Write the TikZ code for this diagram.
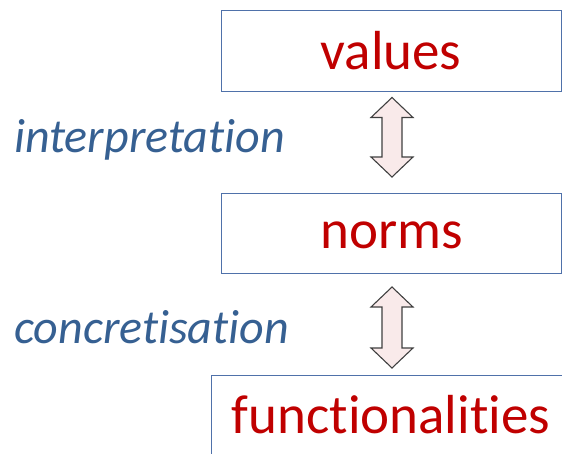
\documentclass[tikz,border=0pt]{standalone}
\usepackage{fontspec}
\setmainfont[Ligatures=NoCommon]{Carlito}
\usetikzlibrary{calc}
\definecolor{boxline}{RGB}{79,113,170}
\definecolor{boxtextred}{RGB}{192,0,0}
\definecolor{labelblue}{RGB}{54,96,146}
\definecolor{arrowfill}{RGB}{249,234,234}
\definecolor{arrowline}{RGB}{64,64,64}
\tikzset{
  box/.style={draw=boxline, line width=1.4pt, fill=white, inner sep=0pt, anchor=north west},
  boxtext/.style={text=boxtextred, font=\fontsize{55}{60}\selectfont, inner sep=0pt, anchor=base},
  sidelabel/.style={text=labelblue, font=\fontsize{48}{52}\selectfont\itshape, inner sep=0pt, anchor=base west},
  dblarrow/.style={draw=arrowline, fill=arrowfill, line width=1.1pt, line join=miter}
}
\newcommand{\dblarrowpath}[2]{%
  \draw[dblarrow] (#1) -- ($(#1)+(21,20)$) -- ($(#1)+(10,20)$) -- ($(#2)+(10,-20)$)
    -- ($(#2)+(21,-20)$) -- (#2) -- ($(#2)+(-21,-20)$) -- ($(#2)+(-10,-20)$)
    -- ($(#1)+(-10,20)$) -- ($(#1)+(-21,20)$) -- cycle;}
\begin{document}
\begin{tikzpicture}[x=1pt,y=-1pt]
\path[use as bounding box, clip] (0,0) rectangle (562,453);
\fill[white] (0,0) rectangle (562,453);
% boxes
\node[box, minimum width=340pt, minimum height=81pt] (vbox) at (221,10) {};
\node[box, minimum width=340pt, minimum height=80pt] (nbox) at (221,193) {};
\node[box, minimum width=400pt, minimum height=120pt] (fbox) at (211,375) {};
% box texts
\node[boxtext] (vtext) at (391,69) {values};
\node[boxtext] (ntext) at (392,248) {norms};
\node[boxtext] (ftext) at (391,433) {functionalities};
% side labels
\node[sidelabel] (interp) at (14,152) {interpretation};
\node[sidelabel] (concr) at (14,343) {concretisation};
% double arrows
\coordinate (a1t) at (392,97.5);
\coordinate (a1b) at (392,177);
\coordinate (a2t) at (392,287);
\coordinate (a2b) at (392,368);
\dblarrowpath{a1t}{a1b}
\dblarrowpath{a2t}{a2b}
\end{tikzpicture}
\end{document}
